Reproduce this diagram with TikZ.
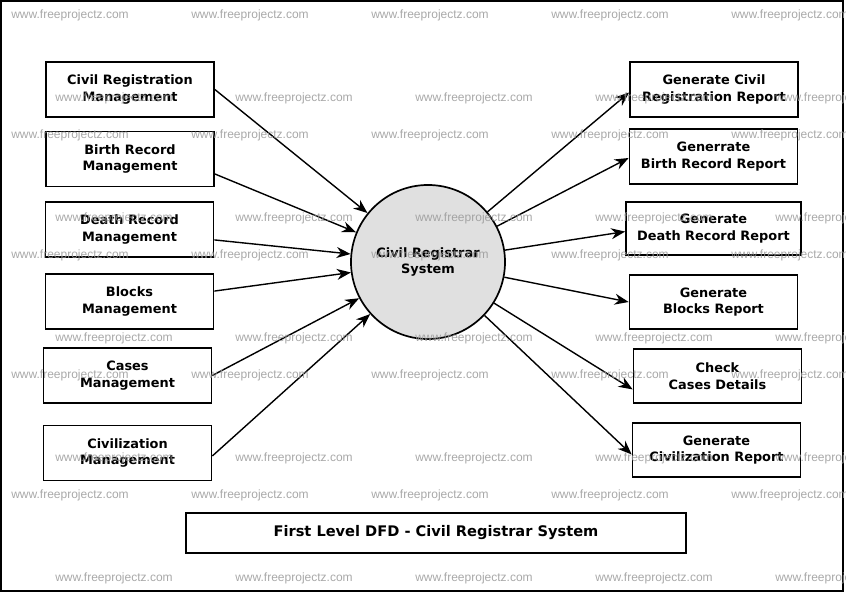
\documentclass[tikz,border=0pt]{standalone}
\usepackage{fontspec}
\setmainfont{DejaVu Sans}
\newfontfamily\wmfont{Liberation Sans}
\usetikzlibrary{arrows.meta}

\tikzset{every picture/.style={line width=1.5pt}}
\tikzset{
  procbox/.style={draw, line width=1.7pt, minimum width=168pt, minimum height=55pt, inner sep=1pt, align=center, font=\fontsize{12.9}{16.8}\selectfont\bfseries},
  flow/.style={-{Stealth[length=14pt,width=11pt]}, line width=1.4pt},
  wmark/.style={text=black!40, opacity=0.85, font=\wmfont\fontsize{12}{12}\selectfont, inner sep=0pt}
}

\begin{document}
\begin{tikzpicture}[x=1pt,y=1pt,yscale=-1,xscale=1]
            \useasboundingbox (0,0) rectangle (846,593);
            %Frame
            \draw [line width=2pt] (1,1) rectangle (843,591);

            %Shape: Circle [id:sys]
            \node [circle, draw, fill=black!12, line width=1.7pt, minimum size=154pt, align=center, font=\fontsize{12.9}{16.8}\selectfont\bfseries] (sys) at (428,262) {Civil Registrar\\System};

            %Shape: Rectangle -- sources
            \node [procbox] (civreg) at (130,89.5) {Civil Registration\\Management};
            \node [procbox] (birth) at (130,159) {Birth Record\\Management};
            \node [procbox] (death) at (129.5,229.5) {Death Record\\Management};
            \node [procbox] (blocks) at (129.5,301.5) {Blocks\\Management};
            \node [procbox] (cases) at (127.5,375.5) {Cases\\Management};
            \node [procbox] (civil) at (127.5,453) {Civilization\\Management};

            %Shape: Rectangle -- reports
            \node [procbox] (civregrep) at (714,89.5) {Generate Civil\\Registration Report};
            \node [procbox] (birthrep) at (713.5,156.5) {Generrate\\Birth Record Report};
            \node [procbox, minimum width=175pt, minimum height=53pt] (deathrep) at (713.5,228.5) {Generate\\Death Record Report};
            \node [procbox, minimum height=54pt] (blocksrep) at (713.5,302) {Generate\\Blocks Report};
            \node [procbox, minimum height=54pt] (casesrep) at (717.5,376) {Check\\Cases Details};
            \node [procbox, minimum height=54pt] (civilrep) at (716.5,450) {Generate\\Civilization Report};

            %Shape: Rectangle -- title
            \node [draw, line width=1.7pt, minimum width=500pt, minimum height=40pt, font=\fontsize{14.6}{17}\selectfont\bfseries] (title) at (436,533) {First Level DFD - Civil Registrar System};

            %Straight Lines -- into the system
            \draw [flow] (civreg.east) -- (sys);
            \draw [flow] (birth.-10) -- (sys);
            \draw [flow] (death.-7) -- (sys);
            \draw [flow] (blocks.7) -- (sys);
            \draw [flow] (cases.east) -- (sys);
            \draw [flow] (civil.-2) -- (sys);

            %Straight Lines -- out of the system
            \draw [flow] (sys) -- (civregrep.182);
            \draw [flow] (sys) -- (birthrep.181);
            \draw [flow] (sys) -- (deathrep.182);
            \draw [flow] (sys) -- (blocksrep.west);
            \draw [flow] (sys) -- (casesrep.189);
            \draw [flow] (sys) -- (civilrep.183);

            %Watermark
            \foreach \y in {15,135,255,375,495}
              \foreach \x in {70,250,430,610,790}
                \node [wmark] at (\x,\y) {www.freeprojectz.com};
            \foreach \y in {98,218,338,458,578}
              \foreach \x in {114,294,474,654,834}
                \node [wmark] at (\x,\y) {www.freeprojectz.com};

        \end{tikzpicture}
\end{document}
